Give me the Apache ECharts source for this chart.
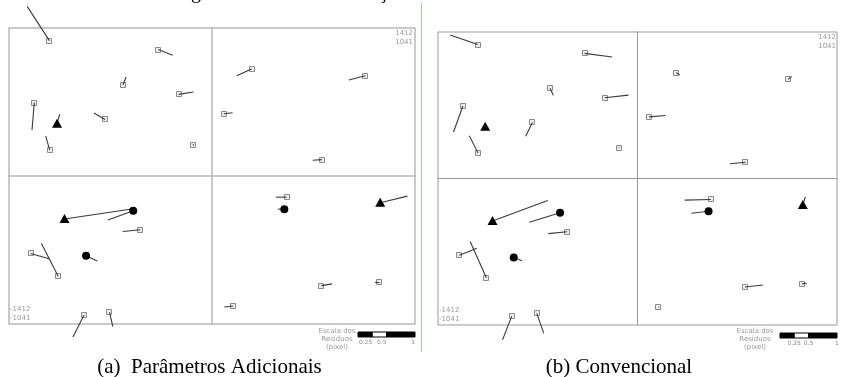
<!DOCTYPE html>
<html><head><meta charset="utf-8">
<script src="https://cdn.jsdelivr.net/npm/echarts@6/dist/echarts.min.js"></script>
<style>html,body{margin:0;padding:0;background:#fff}#c{width:842px;height:377px}</style>
</head><body><div id="c"></div><script>
// ---- data ----
const X_MAX = 1412, Y_MAX = 1041;
const POINT_X = [-1131,-374,-619,-232,-1236,-1078,-744,-1129,-133,275,1067,82,764,-1026,-548,-498,-1261,-1070,-876,-890,-713,519,503,1170,761,1165,147];
const POINT_Y = [952,889,642,574,515,367,398,182,217,752,705,438,115,-302,-244,-378,-545,-705,-561,-978,-958,-149,-233,-188,-771,-749,-914];
const POINT_TYPE = ['sq','sq','sq','sq','sq','tri','sq','sq','sq','sq','sq','sq','sq','tri','circ','sq','sq','sq','circ','sq','sq','sq','circ','tri','sq','sq','sq'];
// residuals in pixels (Parâmetros Adicionais)
const RES_A_X = [-0.386,0.251,0.053,0.258,-0.040,0.047,-0.193,-0.070,0.02,-0.258,-0.288,0.153,-0.158,1.17,-0.439,-0.305,0.333,-0.291,0.193,-0.193,0.058,-0.188,-0.112,0.474,0.186,-0.075,-0.153];
const RES_A_Y = [0.602,-0.100,0.135,0.042,-0.479,0.170,0.112,0.251,0.01,-0.118,-0.075,0.018,-0.011,0.175,-0.163,-0.030,-0.098,0.574,-0.093,-0.386,-0.253,0,0,0.116,0.030,0,-0.018];
// residuals in pixels (Convencional)
const RES_B_X = [-0.486,0.486,0.058,0.421,-0.165,0,-0.118,-0.153,0.01,0.058,0.058,0.293,-0.275,0.977,-0.544,-0.333,0.311,-0.286,0.146,-0.163,0.123,-0.463,-0.304,0.046,0.316,0.082,0.01];
const RES_B_Y = [0.170,-0.065,-0.128,0.046,-0.461,0,-0.246,0.304,0.01,-0.042,0.053,0.025,-0.025,0.363,-0.168,-0.035,0.123,0.642,-0.060,-0.421,-0.351,-0.012,-0.035,0.146,0.035,0.012,0];
const SCALE_TICKS = [0.25, 0.5, 1];
const SCALE_SEG_START = [0, 0.25, 0.5];
const SCALE_SEG_END = [0.25, 0.5, 1];
const SCALE_TITLE = 'Escala dos\nResíduos\n(pixel)';
const CAPTIONS = ['(a)  Parâmetros Adicionais', '(b) Convencional'];
const RES_UNIT = 400; // map units per residual pixel

// ---- layout ----
const GA = {left:9, top:28, width:406, height:296};
const GB = {left:438, top:32, width:399, height:293};

function render(params, api) {
  const i = params.dataIndex;
  const x = api.value(0), y = api.value(1);
  const p = api.coord([x, y]);
  const q = api.coord([x + api.value(2) * RES_UNIT, y + api.value(3) * RES_UNIT]);
  const t = POINT_TYPE[i];
  const line = {type:'line', shape:{x1:p[0], y1:p[1], x2:q[0], y2:q[1]}, style:{stroke:'#3a3a3a', lineWidth:1.1}};
  const kids = [];
  if (t === 'sq') {
    kids.push({type:'rect', shape:{x:Math.round(p[0]) - 2.5, y:Math.round(p[1]) - 2.5, width:5, height:5}, style:{fill:'#eee', stroke:'#8a8a8a', lineWidth:1}});
    kids.push(line);
  } else if (t === 'tri') {
    kids.push(line);
    kids.push({type:'polygon', shape:{points:[[p[0], p[1] - 5], [p[0] - 5, p[1] + 4], [p[0] + 5, p[1] + 4]]}, style:{fill:'#000'}});
  } else {
    kids.push(line);
    kids.push({type:'circle', shape:{cx:p[0], cy:p[1], r:4}, style:{fill:'#000'}});
  }
  return {type:'group', children:kids};
}
function renderScale(params, api) {
  const a = api.coord([api.value(0), 0]);
  const b = api.coord([api.value(1), 1]);
  return {type:'rect', shape:{x:a[0], y:b[1], width:b[0] - a[0], height:a[1] - b[1]},
    style:{fill: params.dataIndex % 2 ? '#fff' : '#000', stroke:'#000', lineWidth:1}};
}
const dataA = POINT_X.map((x, i) => [x, POINT_Y[i], RES_A_X[i], RES_A_Y[i]]);
const dataB = POINT_X.map((x, i) => [x, POINT_Y[i], RES_B_X[i], RES_B_Y[i]]);
const scaleData = SCALE_SEG_START.map((s, i) => [s, SCALE_SEG_END[i]]);

function mainX(gi, color, w) {
  return {type:'value', gridIndex:gi, min:-X_MAX, max:X_MAX, axisLine:{onZero:true, lineStyle:{color:color, width:w}},
    axisTick:{show:false}, axisLabel:{show:false}, splitLine:{show:false}};
}
function mainY(gi, color, w) {
  return {type:'value', gridIndex:gi, min:-Y_MAX, max:Y_MAX, axisLine:{onZero:true, lineStyle:{color:color, width:w}},
    axisTick:{show:false}, axisLabel:{show:false}, splitLine:{show:false}};
}
function scaleX(gi, align) {
  return {type:'value', gridIndex:gi, min:0, max:1, interval:0.25, axisLine:{show:false}, axisTick:{show:false}, splitLine:{show:false},
    axisLabel:{show:true, margin:2, fontSize:6, color:'#888', fontFamily:'DejaVu Sans', align:align,
      formatter: v => SCALE_TICKS.indexOf(v) >= 0 ? String(v) : ''}};
}
function scaleY(gi) {
  return {type:'value', gridIndex:gi, min:0, max:1, show:false};
}
const small = {fontSize:7, fill:'#999', fontFamily:'DejaVu Sans', lineHeight:9};
const chart = echarts.init(document.getElementById('c'));
chart.setOption({
  animation:false,
  backgroundColor:'#fff',
  grid:[
    Object.assign({show:true, borderColor:'#b8b8b8', borderWidth:1.5, outerBoundsMode:'none'}, GA),
    Object.assign({show:true, borderColor:'#999', borderWidth:1, outerBoundsMode:'none'}, GB),
    {left:358, top:332, width:57, height:5, outerBoundsMode:'none'},
    {left:780, top:333, width:57, height:5, outerBoundsMode:'none'}
  ],
  xAxis:[mainX(0,'#b8b8b8',1.5), mainX(1,'#999',1), scaleX(2,'right'), scaleX(3,'center')],
  yAxis:[mainY(0,'#b8b8b8',1.5), mainY(1,'#999',1), scaleY(2), scaleY(3)],
  series:[
    {type:'custom', xAxisIndex:0, yAxisIndex:0, renderItem:render, data:dataA, clip:false, encode:{x:0, y:1}},
    {type:'custom', xAxisIndex:1, yAxisIndex:1, renderItem:render, data:dataB, clip:false, encode:{x:0, y:1}},
    {type:'custom', xAxisIndex:2, yAxisIndex:2, renderItem:renderScale, data:scaleData, encode:{x:[0,1]}},
    {type:'custom', xAxisIndex:3, yAxisIndex:3, renderItem:renderScale, data:scaleData, encode:{x:[0,1]}}
  ],
  graphic:[
    {type:'line', shape:{x1:421.5, y1:3, x2:421.5, y2:352}, style:{stroke:'#f2a0a0', lineWidth:1}},
    {type:'text', x:GA.left + GA.width - 2, y:GA.top + 1, style:Object.assign({text: X_MAX + '\n' + Y_MAX, align:'right', verticalAlign:'top'}, small)},
    {type:'text', x:GB.left + GB.width - 1, y:GB.top + 1, style:Object.assign({text: X_MAX + '\n' + Y_MAX, align:'right', verticalAlign:'top'}, small)},
    {type:'text', x:GA.left + 1, y:GA.top + GA.height - 1, style:Object.assign({text: '-' + X_MAX + '\n-' + Y_MAX, align:'left', verticalAlign:'bottom'}, small)},
    {type:'text', x:GB.left + 1, y:GB.top + GB.height - 1, style:Object.assign({text: '-' + X_MAX + '\n-' + Y_MAX, align:'left', verticalAlign:'bottom'}, small)},
    {type:'text', x:337, y:327, style:Object.assign({text: SCALE_TITLE, align:'center', verticalAlign:'top'}, small, {lineHeight:8})},
    {type:'text', x:755, y:327, style:Object.assign({text: SCALE_TITLE, align:'center', verticalAlign:'top'}, small, {lineHeight:8})},
    {type:'text', x:209.5, y:367, style:{text:CAPTIONS[0], align:'center', verticalAlign:'middle', fontSize:21, fontFamily:'Liberation Serif', fill:'#000'}},
    {type:'text', x:619, y:367, style:{text:CAPTIONS[1], align:'center', verticalAlign:'middle', fontSize:21, fontFamily:'Liberation Serif', fill:'#000'}},
    {type:'text', x:196, y:-7, style:{text:'g', align:'center', verticalAlign:'middle', fontSize:20, fontFamily:'Liberation Serif', fill:'#000'}},
    {type:'text', x:383, y:-7, style:{text:'ç', align:'center', verticalAlign:'middle', fontSize:20, fontFamily:'Liberation Serif', fill:'#000'}}
  ]
});
</script></body></html>
